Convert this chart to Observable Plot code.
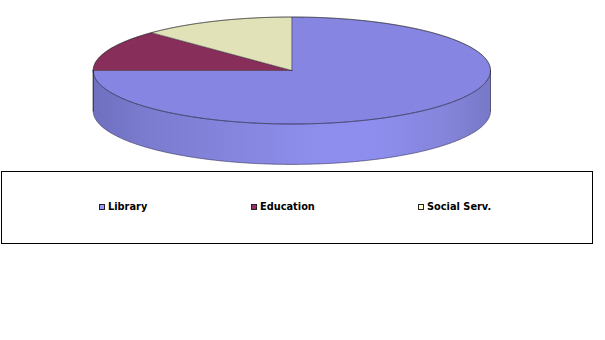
<!DOCTYPE html>
<html>
<head>
<meta charset="utf-8">
<script src="https://cdn.jsdelivr.net/npm/d3@7"></script>
<script src="https://cdn.jsdelivr.net/npm/@observablehq/plot@0.6"></script>
<style>
  html, body { margin: 0; padding: 0; background: #fff; }
  #wrap { position: relative; width: 605px; height: 340px; overflow: hidden; }
  #chart { position: absolute; left: 0; top: 0; }
  #legend { position: absolute; left: 1px; top: 171px; width: 592px; height: 73px; box-sizing: border-box; border: 1px solid #000; }
  .item { position: absolute; top: 29px; font: bold 9.8px "DejaVu Sans", sans-serif; color: #000; white-space: nowrap; line-height: 12px; }
  .sw { display: inline-block; width: 4px; height: 4px; border: 1px solid #222; margin-right: 3px; vertical-align: 0px; }
</style>
</head>
<body>
<div id="wrap">
  <div id="chart"></div>
  <div id="legend"></div>
</div>
<script>
const categories = ["Library", "Education", "Social Serv."];
const values = [75, 12.5, 12.5];
const topColors = ["#8686e2", "#872e5a", "#e2e2b8"];
const legendColors = ["#9999FF", "#993366", "#FFFFCC"];

// pie layout (12 o'clock start, clockwise)
const arcs = d3.pie().sort(null)(values);
const depth = 0.755; // side thickness in units of the vertical radius

function arcPoints(a0, a1, dy = 0) {
  const n = Math.max(2, Math.ceil((a1 - a0) / 0.01));
  const pts = [];
  for (let i = 0; i <= n; i++) {
    const t = a0 + (a1 - a0) * i / n;
    pts.push({x: Math.sin(t), y: -Math.cos(t) + dy});
  }
  return pts;
}

const slices = arcs.map((a, i) => ({
  name: categories[i],
  color: topColors[i],
  pts: [{x: 0, y: 0}, ...arcPoints(a.startAngle, a.endAngle), {x: 0, y: 0}]
}));

// visible front side: from 3 o'clock to 9 o'clock (all of it belongs to Library)
const sideTop = arcPoints(Math.PI / 2, 3 * Math.PI / 2);
const sideBottom = arcPoints(Math.PI / 2, 3 * Math.PI / 2, depth).reverse();
const sidePts = [...sideTop, ...sideBottom, sideTop[0]];

const marks = [
  Plot.line(sidePts, {x: "x", y: "y", fill: "url(#sideGrad)", stroke: "none", curve: "linear"}),
  Plot.line(sideBottom, {x: "x", y: "y", stroke: "#3a3a60", strokeWidth: 0.8, strokeOpacity: 0.8}),
  ...slices.map(s => Plot.line(s.pts, {x: "x", y: "y", fill: s.color, stroke: "none", curve: "linear"})),
  // slice outlines
  ...slices.map(s => Plot.line(s.pts, {x: "x", y: "y", stroke: "#2a2a3a", strokeWidth: 0.6, strokeOpacity: 0.55, curve: "linear"})),
  // front edge of the top face and back outline
  Plot.line(sideTop, {x: "x", y: "y", stroke: "#2c2c50", strokeWidth: 0.8, strokeOpacity: 0.8}),
  Plot.line(arcPoints(3 * Math.PI / 2, 2.5 * Math.PI), {x: "x", y: "y", stroke: "#222", strokeWidth: 0.8, strokeOpacity: 0.7}),
  // vertical edges of the side
  Plot.line([{x: 1, y: 0}, {x: 1, y: depth}], {x: "x", y: "y", stroke: "#2c2c50", strokeWidth: 0.9, strokeOpacity: 0.8}),
  Plot.line([{x: -1, y: 0}, {x: -1, y: depth}], {x: "x", y: "y", stroke: "#111", strokeWidth: 1, strokeOpacity: 0.9})
];

const plot = Plot.plot({
  width: 605,
  height: 170,
  margin: 0,
  x: {domain: [-1, 1], range: [92.7, 490], axis: null},
  y: {domain: [-1, 1], range: [16.5, 123.5], axis: null},
  marks
});

// gradient for the shaded side
const svg = d3.select(plot);
const defs = svg.insert("defs", ":first-child");
const grad = defs.append("linearGradient").attr("id", "sideGrad").attr("x1", "0").attr("x2", "1").attr("y1", "0").attr("y2", "0");
[[0, "#7070c0"], [0.12, "#7a7ace"], [0.35, "#8585de"], [0.55, "#8d8dec"], [0.7, "#8e8ef0"], [0.88, "#8585dc"], [1, "#7878c8"]]
  .forEach(([o, c]) => grad.append("stop").attr("offset", o).attr("stop-color", c));

document.getElementById("chart").appendChild(plot);

// legend
const legendX = [97, 249, 416];
const legend = document.getElementById("legend");
categories.forEach((c, i) => {
  const d = document.createElement("div");
  d.className = "item";
  d.style.left = legendX[i] + "px";
  d.innerHTML = `<span class="sw" style="background:${legendColors[i]}"></span>${c}`;
  legend.appendChild(d);
});
</script>
</body>
</html>
